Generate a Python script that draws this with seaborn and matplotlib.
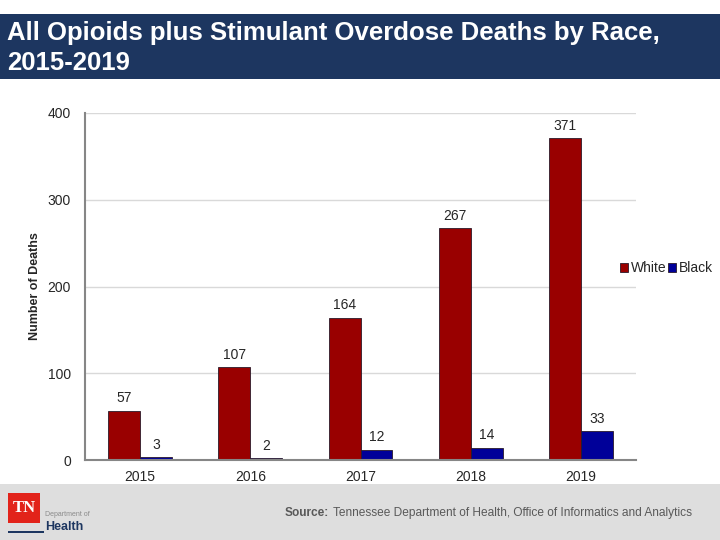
import pandas as pd
import seaborn as sns
import matplotlib.pyplot as plt
from matplotlib.patches import Rectangle

# data
years = ['2015', '2016', '2017', '2018', '2019']
white = [57, 107, 164, 267, 371]
black = [3, 2, 12, 14, 33]

df = pd.DataFrame({
    'ano': years * 2,
    'race': ['White'] * len(years) + ['Black'] * len(years),
    'deaths': white + black,
})

sns.set_style('white')
plt.rcParams['font.family'] = ['Liberation Sans', 'DejaVu Sans']

fig = plt.figure(figsize=(7.2, 5.4), dpi=100)

# title banner
fig.patches.append(Rectangle((0, 1 - 79 / 540), 1, 65 / 540, transform=fig.transFigure,
                             facecolor='#1d3660', edgecolor='none', zorder=0))
fig.text(7 / 720, 1 - 33 / 540, 'All Opioids plus Stimulant Overdose Deaths by Race,',
         color='white', fontsize=18.5, fontweight='bold', va='center', ha='left')
fig.text(7 / 720, 1 - 63 / 540, '2015-2019',
         color='white', fontsize=18.5, fontweight='bold', va='center', ha='left')

# footer
fig.patches.append(Rectangle((0, 0), 1, 56 / 540, transform=fig.transFigure,
                             facecolor='#dedede', edgecolor='none', zorder=0))
fig.patches.append(Rectangle((8 / 720, 1 - 523 / 540), 32 / 720, 30 / 540, transform=fig.transFigure,
                             facecolor='#e2231a', edgecolor='none', zorder=1))
fig.text(24 / 720, 1 - 508 / 540, 'TN', color='white', fontsize=12, fontweight='bold',
         family='Liberation Serif', ha='center', va='center')
fig.text(45 / 720, 1 - 515 / 540, 'Department of', color='#8a8a8a', fontsize=5, ha='left', va='center')
fig.text(45 / 720, 1 - 527 / 540, 'Health', color='#1d3660', fontsize=9, fontweight='bold',
         ha='left', va='center')
fig.patches.append(Rectangle((8 / 720, 1 - 533 / 540), 36 / 720, 2 / 540, transform=fig.transFigure,
                             facecolor='#1d3660', edgecolor='none', zorder=1))
fig.text(285 / 720, 1 - 513 / 540, 'Source:', color='#595959', fontsize=8.6, fontweight='bold',
         ha='left', va='center')
fig.text(333 / 720, 1 - 513 / 540, 'Tennessee Department of Health, Office of Informatics and Analytics',
         color='#595959', fontsize=8.6, ha='left', va='center')

ax = fig.add_axes([85 / 720, 1 - 460 / 540, 551 / 720, 347 / 540])

sns.barplot(data=df, x='ano', y='deaths', hue='race', palette=['#990000', '#000099'],
            saturation=1, width=0.58, edgecolor='#2a1a2a', linewidth=0.6, ax=ax, legend=True)

for c in ax.containers:
    ax.bar_label(c, padding=4, fontsize=10)

ax.set_ylim(0, 400)
ax.set_xlim(-0.5, 4.5)
ax.set_yticks([0, 100, 200, 300, 400])
ax.yaxis.grid(True, color='#d9d9d9', linewidth=1)
ax.set_axisbelow(True)
ax.set_xlabel('')
ax.set_ylabel('Number of Deaths', fontsize=9, fontweight='bold', labelpad=5)
for s in ['top', 'right']:
    ax.spines[s].set_visible(False)
for s in ['left', 'bottom']:
    ax.spines[s].set_color('#868686')
    ax.spines[s].set_linewidth(1.5)
ax.tick_params(axis='x', length=0, pad=7, labelsize=10)
ax.tick_params(axis='y', length=4, width=1.2, color='#868686', pad=6, labelsize=10)

ax.get_legend().remove()
handles, labels = ax.get_legend_handles_labels()
fig.legend(handles[:2], labels[:2], loc='center left', bbox_to_anchor=(620 / 720, 1 - 268 / 540),
           ncol=2, frameon=False, fontsize=10, handlelength=0.6, handleheight=0.6,
           handletextpad=0.2, columnspacing=0.1, borderaxespad=0, borderpad=0)

plt.savefig('out.png', dpi=100)
